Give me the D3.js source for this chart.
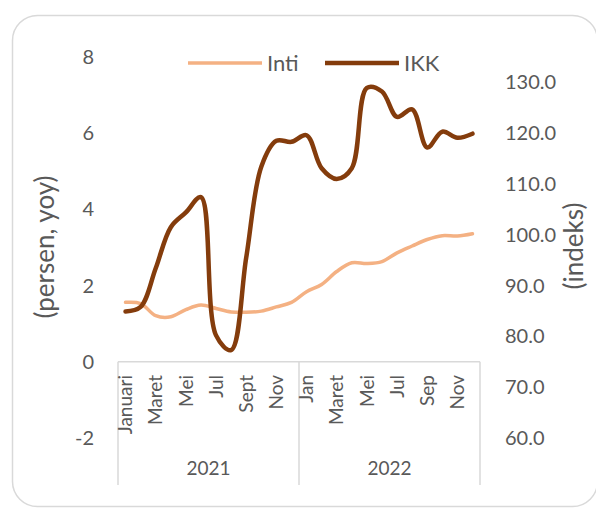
<!DOCTYPE html>
<html>
<head>
<meta charset="utf-8">
<script src="https://cdn.jsdelivr.net/npm/d3@7"></script>
<style>
  body { margin: 0; background: #fff; }
  text { font-family: Lato, "Open Sans", sans-serif; fill: #595959; }
</style>
</head>
<body>
<div id="chart-area"></div>
<script>
// Data
var monthLabels = ["Januari", "", "Maret", "", "Mei", "", "Jul", "", "Sept", "", "Nov", "",
                   "Jan", "", "Maret", "", "Mei", "", "Jul", "", "Sep", "", "Nov", ""];
var years = ["2021", "2022"];
var inti = [1.56, 1.53, 1.21, 1.18, 1.37, 1.49, 1.40, 1.31, 1.30, 1.33, 1.44, 1.56,
            1.84, 2.03, 2.37, 2.60, 2.58, 2.63, 2.86, 3.04, 3.21, 3.31, 3.30, 3.36];
var ikk = [84.9, 85.8, 93.4, 101.5, 104.4, 107.4, 80.2, 77.3, 95.5, 113.4, 118.5, 118.3,
           119.6, 113.1, 111.0, 113.1, 128.9, 128.2, 123.2, 124.7, 117.2, 120.3, 119.1, 119.9];
var leftTicks = [-2, 0, 2, 4, 6, 8];
var rightTicks = [60, 70, 80, 90, 100, 110, 120, 130];

var width = 596;
var height = 516;

var svg = d3.select("#chart-area").append("svg").attr("width", width).attr("height", height);

// Frame
svg.append("rect").attr("x", 12.5).attr("y", 15.5).attr("width", 585).attr("height", 491)
  .attr("rx", 25).attr("fill", "#fff").attr("stroke", "#d9d9d9").attr("stroke-width", 1.5);

// Scales
var x = d3.scaleBand().domain(d3.range(monthLabels.length)).range([118, 480]);
var yLeft = d3.scaleLinear().domain([-2, 8]).range([438, 57]);
var yRight = d3.scaleLinear().domain([60, 135]).range([438, 57]);
var xc = function(i) { return x(i) + x.bandwidth() / 2; };

// Left axis
var leftAxis = svg.append("g").attr("transform", "translate(94,0)")
  .call(d3.axisLeft(yLeft).tickValues(leftTicks).tickSize(0).tickPadding(0).tickFormat(function(d) { return String(d); }));
leftAxis.select(".domain").remove();
leftAxis.selectAll("text").attr("font-size", "20px").style("font-family", "Lato").attr("fill", "#595959");

// Right axis
var rightAxis = svg.append("g").attr("transform", "translate(505,0)")
  .call(d3.axisRight(yRight).tickValues(rightTicks).tickSize(0).tickPadding(0).tickFormat(d3.format(".1f")));
rightAxis.select(".domain").remove();
rightAxis.selectAll("text").attr("font-size", "20px").style("font-family", "Lato").attr("fill", "#595959");

// Category box
var y0 = yLeft(0);
var boxBottom = 485;
svg.append("line").attr("x1", 118).attr("x2", 480).attr("y1", y0).attr("y2", y0)
  .attr("stroke", "#d9d9d9").attr("stroke-width", 1.5);
[0, 12, 24].forEach(function(i) {
  var xx = i < 24 ? x(i) : x(23) + x.bandwidth();
  svg.append("line").attr("x1", xx).attr("x2", xx).attr("y1", y0).attr("y2", boxBottom)
    .attr("stroke", "#d9d9d9").attr("stroke-width", 1.5);
});

// Month labels
svg.selectAll(".month").data(monthLabels).enter().append("text").attr("class", "month")
  .attr("transform", function(d, i) { return "translate(" + xc(i) + ",375) rotate(-90)"; })
  .attr("dy", "0.35em").attr("text-anchor", "end").attr("font-size", "19px").text(function(d) { return d; });

// Year labels
svg.selectAll(".year").data(years).enter().append("text").attr("class", "year")
  .attr("x", function(d, i) { return (x(i * 12) + x(i * 12 + 11) + x.bandwidth()) / 2; })
  .attr("y", 475).attr("text-anchor", "middle").attr("font-size", "19px").text(function(d) { return d; });

// Lines
var intiLine = d3.line().x(function(d, i) { return xc(i); }).y(function(d) { return yLeft(d); })
  .curve(d3.curveCatmullRom.alpha(0.5));
var ikkLine = d3.line().x(function(d, i) { return xc(i); }).y(function(d) { return yRight(d); })
  .curve(d3.curveCatmullRom.alpha(0.5));

svg.append("path").datum(inti).attr("d", intiLine).attr("fill", "none")
  .attr("stroke", "#f4b183").attr("stroke-width", 3.5).attr("stroke-linecap", "round");
svg.append("path").datum(ikk).attr("d", ikkLine).attr("fill", "none")
  .attr("stroke", "#843c0c").attr("stroke-width", 4.5).attr("stroke-linecap", "round");

// Axis titles
svg.append("text").attr("transform", "translate(45,247) rotate(-90)").attr("dy", "0.35em")
  .attr("text-anchor", "middle").attr("font-size", "26px").text("(persen, yoy)");
svg.append("text").attr("transform", "translate(574,246) rotate(-90)").attr("dy", "0.35em")
  .attr("text-anchor", "middle").attr("font-size", "26px").text("(indeks)");

// Legend
var legendItems = [{name: "Inti", color: "#f4b183", w: 3.5, x: 188}, {name: "IKK", color: "#843c0c", w: 4.5, x: 325}];
legendItems.forEach(function(d) {
  svg.append("line").attr("x1", d.x).attr("x2", d.x + 74).attr("y1", 63).attr("y2", 63)
    .attr("stroke", d.color).attr("stroke-width", d.w);
  svg.append("text").attr("x", d.x + 79).attr("y", 63).attr("dy", "0.35em")
    .attr("font-size", "22px").text(d.name);
});
</script>
</body>
</html>
